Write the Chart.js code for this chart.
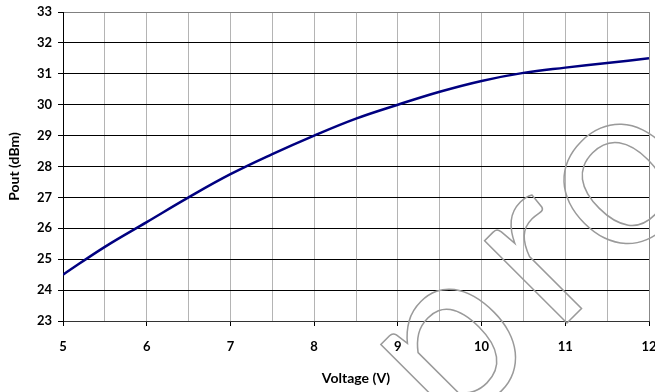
<!DOCTYPE html>
<html>
<head>
<meta charset="utf-8">
<script src="https://cdn.jsdelivr.net/npm/chart.js@4"></script>
<style>
  html, body { margin: 0; padding: 0; background: #fff; }
  canvas { display: block; }
</style>
</head>
<body>
<canvas id="graf" width="655" height="392"></canvas>
<script>
// data
const voltage = [5, 5.5, 6, 6.5, 7, 7.5, 8, 8.5, 9, 9.5, 10, 10.5, 11, 11.5, 12]
const pout = [24.5, 25.4, 26.2, 27.0, 27.75, 28.4, 29.0, 29.55, 30.0, 30.42, 30.77, 31.03, 31.2, 31.35, 31.5]
const xTitle = 'Voltage (V)'
const yTitle = 'Pout (dBm)'
const watermark = ['p', 'r', 'o']

const fontFam = 'Lato, "DejaVu Sans", sans-serif'

// big outlined letters across the lower right, like the original
const marcaDagua = {
    id: 'marcaDagua',
    afterDraw(chart) {
        const ctx = chart.ctx
        const pos = [74, 198, 311] // along the tilted baseline
        ctx.save()
        ctx.translate(445, 445)
        ctx.rotate(-Math.PI / 4)
        ctx.font = '230px ' + fontFam
        ctx.textAlign = 'center'
        ctx.textBaseline = 'alphabetic'
        ctx.strokeStyle = '#9a9a9a'
        ctx.lineWidth = 1.5
        watermark.forEach((l, i) => ctx.strokeText(l, pos[i], 0))
        ctx.restore()
    }
}

const graf = document.getElementById('graf')
let myChart = new Chart(graf, {
    type: 'line',
    data: {
        datasets: [{
            data: voltage.map((v, i) => ({ x: v, y: pout[i] })),
            borderColor: '#000080',
            borderWidth: 2.5,
            pointRadius: 0,
            tension: 0.4,
            fill: false
        }]
    },
    options: {
        responsive: false,
        animation: false,
        devicePixelRatio: 1,
        layout: { padding: { top: 12, right: 6, left: 0, bottom: 0 } },
        plugins: {
            legend: { display: false },
            tooltip: { enabled: false }
        },
        scales: {
            x: {
                type: 'linear',
                min: 5,
                max: 12,
                afterFit(s) { s.height = 71; s.paddingLeft = 0; s.paddingRight = 0 },
                ticks: {
                    stepSize: 0.5,
                    autoSkip: false,
                    maxRotation: 0,
                    padding: 13,
                    color: '#000',
                    font: { family: fontFam, size: 13, weight: 'bold' },
                    callback: v => Number.isInteger(v) ? v : ''
                },
                grid: {
                    color: c => c.tick && c.tick.value === 12 ? '#888' : '#b4b4b4',
                    tickColor: c => c.tick && Number.isInteger(c.tick.value) ? '#000' : 'rgba(0,0,0,0)',
                    tickLength: 5,
                    lineWidth: 1
                },
                border: { color: '#333', width: 1 },
                title: {
                    display: true,
                    text: xTitle,
                    color: '#000',
                    font: { family: fontFam, size: 14, weight: 'bold' },
                    padding: { top: 0, bottom: 5 }
                }
            },
            y: {
                min: 23,
                max: 33,
                afterFit(s) { s.width = 63; s.paddingTop = 0; s.paddingBottom = 0 },
                ticks: {
                    stepSize: 1,
                    padding: 6,
                    color: '#000',
                    font: { family: fontFam, size: 13, weight: 'bold' }
                },
                grid: {
                    color: c => c.tick && c.tick.value === 33 ? '#808080' : '#000',
                    tickColor: '#000',
                    tickLength: 5,
                    lineWidth: 1
                },
                border: { color: '#000', width: 1 },
                title: {
                    display: true,
                    text: yTitle,
                    color: '#000',
                    font: { family: fontFam, size: 14, weight: 'bold' },
                    padding: { top: 6, bottom: 0 }
                }
            }
        }
    },
    plugins: [marcaDagua]
})
</script>
</body>
</html>
